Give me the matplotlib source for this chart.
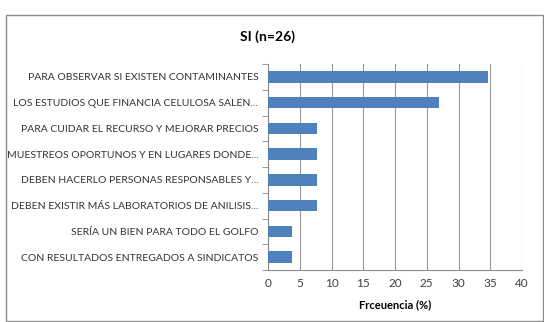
import numpy as np
import matplotlib

matplotlib.use("Agg")
import matplotlib.pyplot as plt
from matplotlib.patches import Rectangle

plt.rcParams["font.family"] = ["Lato", "DejaVu Sans"]

categories = [
    "PARA OBSERVAR SI EXISTEN CONTAMINANTES",
    "LOS ESTUDIOS QUE FINANCIA CELULOSA SALEN...",
    "PARA CUIDAR EL RECURSO Y MEJORAR PRECIOS",
    "MUESTREOS OPORTUNOS Y EN LUGARES DONDE...",
    "DEBEN HACERLO PERSONAS RESPONSABLES Y...",
    "DEBEN EXISTIR MÁS LABORATORIOS DE ANILISIS...",
    "SERÍA UN BIEN PARA TODO EL GOLFO",
    "CON RESULTADOS ENTREGADOS A SINDICATOS",
]
frecuencia = [34.6, 26.9, 7.7, 7.7, 7.7, 7.7, 3.8, 3.8]
x_ticks = [0, 5, 10, 15, 20, 25, 30, 35, 40]

W, H = 544, 322
fig = plt.figure(figsize=(W / 100, H / 100), dpi=100)
fig.patch.set_facecolor("white")

# chart frame
fig.patches.append(Rectangle((6 / W, 1 / H), (W - 7) / W, (H - 16) / H,
                             transform=fig.transFigure, fill=False,
                             edgecolor="#8c8c8c", linewidth=1.0))

ax = fig.add_axes([268 / W, 1 - 270 / H, (522 - 268) / W, (270 - 64) / H])

y = np.arange(len(categories))
ax.barh(y, frecuencia, height=0.45, color="#4f81bd", zorder=3)
ax.set_ylim(len(categories) - 0.5, -0.5)
ax.set_xlim(0, 40)
ax.set_xticks(x_ticks)
ax.set_xticklabels([str(t) for t in x_ticks], fontsize=8.5, color="#404040")
ax.set_yticks(y)
ax.set_yticklabels(categories, fontsize=7.5, color="#333333")
ax.tick_params(axis="y", length=0, pad=7)
ax.tick_params(axis="x", length=0, pad=6)

# category boundary ticks on the value axis
ax.set_yticks(np.arange(-0.5, len(categories) + 0.5, 1), minor=True)
ax.tick_params(axis="y", which="minor", length=4, color="#8c8c8c")

ax.grid(axis="x", color="#999999", linewidth=0.8, zorder=0)
for side in ["top", "right"]:
    ax.spines[side].set_visible(False)
ax.spines["left"].set_color("#8c8c8c")
ax.spines["bottom"].set_color("#8c8c8c")

ax.set_xlabel("Frceuencia (%)", fontsize=8, fontweight="bold", labelpad=7)
fig.text(267 / W, 1 - 37 / H, "SI (n=26)", ha="center", va="center",
         fontsize=10, fontweight="bold")

fig.savefig("out.png", dpi=100)
